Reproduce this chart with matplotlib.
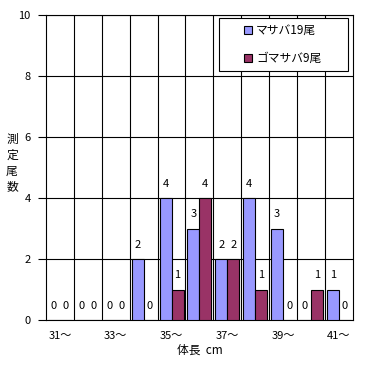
import matplotlib
matplotlib.use("Agg")
import matplotlib.pyplot as plt
from matplotlib.patches import Rectangle
import numpy as np

plt.rcParams['font.family'] = ['Noto Sans CJK JP', 'DejaVu Sans']

categories = ['31〜', '32〜', '33〜', '34〜', '35〜', '36〜', '37〜', '38〜', '39〜', '40〜', '41〜']
masaba = [0, 0, 0, 2, 4, 3, 2, 4, 3, 0, 1]
gomasaba = [0, 0, 0, 0, 1, 4, 2, 1, 0, 1, 0]
series_names = ['マサバ19尾', 'ゴマサバ9尾']
colors = ['#9999FF', '#993366']

fig = plt.figure(figsize=(3.71, 3.65), dpi=100)
ax = fig.add_axes([0.124, 0.123, 0.827, 0.836])

x = np.arange(len(categories))
w = 0.43
b1 = ax.bar(x - w / 2, masaba, w, color=colors[0], edgecolor='black', linewidth=0.8, label=series_names[0], zorder=3)
b2 = ax.bar(x + w / 2, gomasaba, w, color=colors[1], edgecolor='black', linewidth=0.8, label=series_names[1], zorder=3)

for bars, vals in ((b1, masaba), (b2, gomasaba)):
    for rect, v in zip(bars, vals):
        ax.text(rect.get_x() + rect.get_width() / 2, v + 0.3, str(v), ha='center', va='bottom', fontsize=8, zorder=4)

ax.set_xlim(-0.5, len(categories) - 0.5)
ax.set_ylim(0, 10)
ax.set_yticks(range(0, 11, 2))
ax.set_yticklabels([str(v) for v in range(0, 11, 2)], fontsize=8)
ax.set_xticks(x[::2])
ax.set_xticklabels(categories[::2], fontsize=8)
ax.tick_params(axis='x', length=0, pad=8)
ax.tick_params(axis='y', length=6, width=0.8, direction='out', pad=5)

for b in np.arange(0.5, len(categories) - 0.5, 1):
    ax.axvline(b, color='black', linewidth=0.8, zorder=1)
for yv in range(2, 11, 2):
    ax.axhline(yv, color='black', linewidth=0.8, zorder=1)
for s in ax.spines.values():
    s.set_linewidth(0.8)

ax.set_xlabel('体長  cm', fontsize=8.5, labelpad=2)
fig.text(12 / 371, 1 - 163 / 365, '測\n定\n尾\n数', fontsize=8.5, ha='center', va='center', linespacing=1.3)

frame = Rectangle((0.564, 0.816), 0.42, 0.174, transform=ax.transAxes, facecolor='white',
                  edgecolor='black', linewidth=0.8, zorder=5)
ax.add_patch(frame)
leg = ax.legend(loc='center left', bbox_to_anchor=(0.646, 0.903), fontsize=8.5, frameon=False,
                handlelength=0.7, handleheight=0.7, labelspacing=1.25,
                borderpad=0, handletextpad=0.3, borderaxespad=0)
leg.set_zorder(6)

fig.savefig('out.png', dpi=100, facecolor='white')
